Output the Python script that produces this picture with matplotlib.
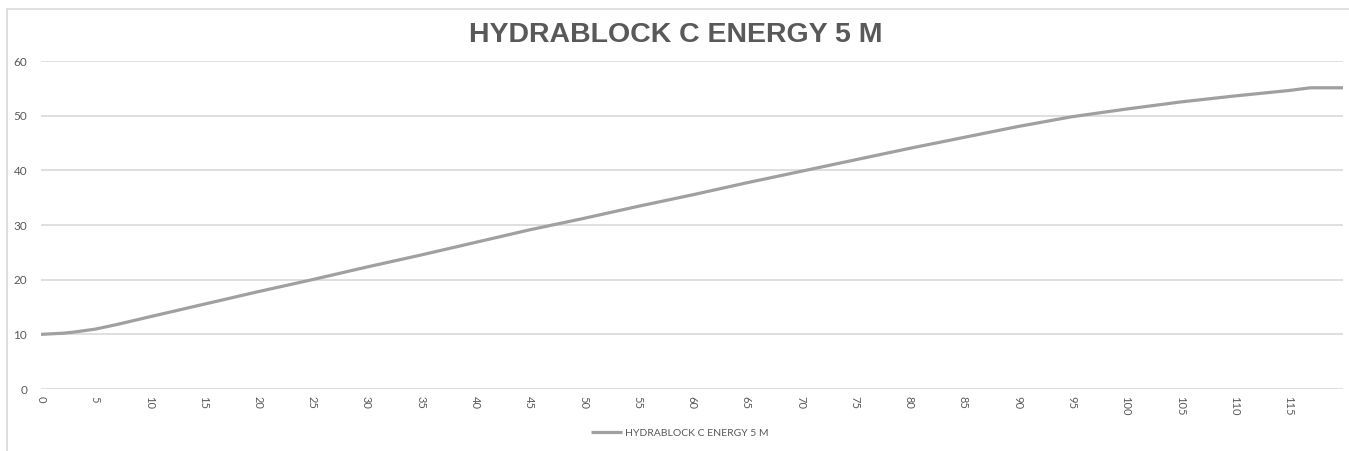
import matplotlib
matplotlib.use("Agg")
import matplotlib.pyplot as plt
from matplotlib.patches import Rectangle

# data
x_vals = [0, 2, 3, 5, 7, 10, 15, 20, 25, 30, 35, 40, 45, 50, 55, 60, 65, 70,
          75, 80, 85, 90, 95, 100, 105, 110, 115, 117, 120]
y_vals = [10.0, 10.2, 10.4, 10.95, 11.8, 13.2, 15.5, 17.8, 20.0, 22.3, 24.5, 26.8,
          29.1, 31.2, 33.4, 35.5, 37.7, 39.8, 41.9, 44.0, 46.0, 48.0, 49.8, 51.2,
          52.5, 53.6, 54.6, 55.1, 55.1]
x_ticks = list(range(0, 120, 5))
y_ticks = [0, 10, 20, 30, 40, 50, 60]
series_name = "HYDRABLOCK C ENERGY 5 M"

txt = "#595959"
grid = "#d9d9d9"

fig = plt.figure(figsize=(13.49, 4.51), dpi=100)
ax = fig.add_axes([41 / 1349, 1 - 389 / 451, (1343 - 41) / 1349, (389 - 61) / 451])

# chart frame
fig.patches.append(Rectangle((7 / 1349, -0.1), 1.2, 1 - 9 / 451 + 0.1,
                             transform=fig.transFigure, fill=False,
                             edgecolor=grid, lw=1.2, clip_on=False))

ax.plot(x_vals, y_vals, color="#a0a0a0", lw=2.3, label=series_name,
        solid_capstyle="butt")

ax.set_xlim(0, 120)
ax.set_ylim(0, 60)
ax.set_xticks(x_ticks)
ax.set_xticklabels([str(t) for t in x_ticks], rotation=-90, fontsize=8,
                   color=txt, family="Lato")
ax.set_yticks(y_ticks)
ax.set_yticklabels([str(t) for t in y_ticks], fontsize=8.5, color=txt, family="Lato")
ax.tick_params(axis="both", length=0)
ax.tick_params(axis="x", pad=5)
ax.tick_params(axis="y", pad=10)
ax.grid(axis="y", color=grid, lw=1.2)
ax.set_axisbelow(True)
for s in ax.spines.values():
    s.set_visible(False)

fig.text(0.501, 1 - 35 / 451, series_name, ha="center", va="center",
         fontsize=20.5, fontweight="bold", color=txt, family="Liberation Sans")

leg = fig.legend(loc="center", bbox_to_anchor=(0.504, 1 - 433 / 451), frameon=False,
                 prop={"family": "Lato", "size": 7.5}, handlelength=3.0,
                 handletextpad=0.3)
for t in leg.get_texts():
    t.set_color(txt)

fig.savefig("out.png", dpi=100)
